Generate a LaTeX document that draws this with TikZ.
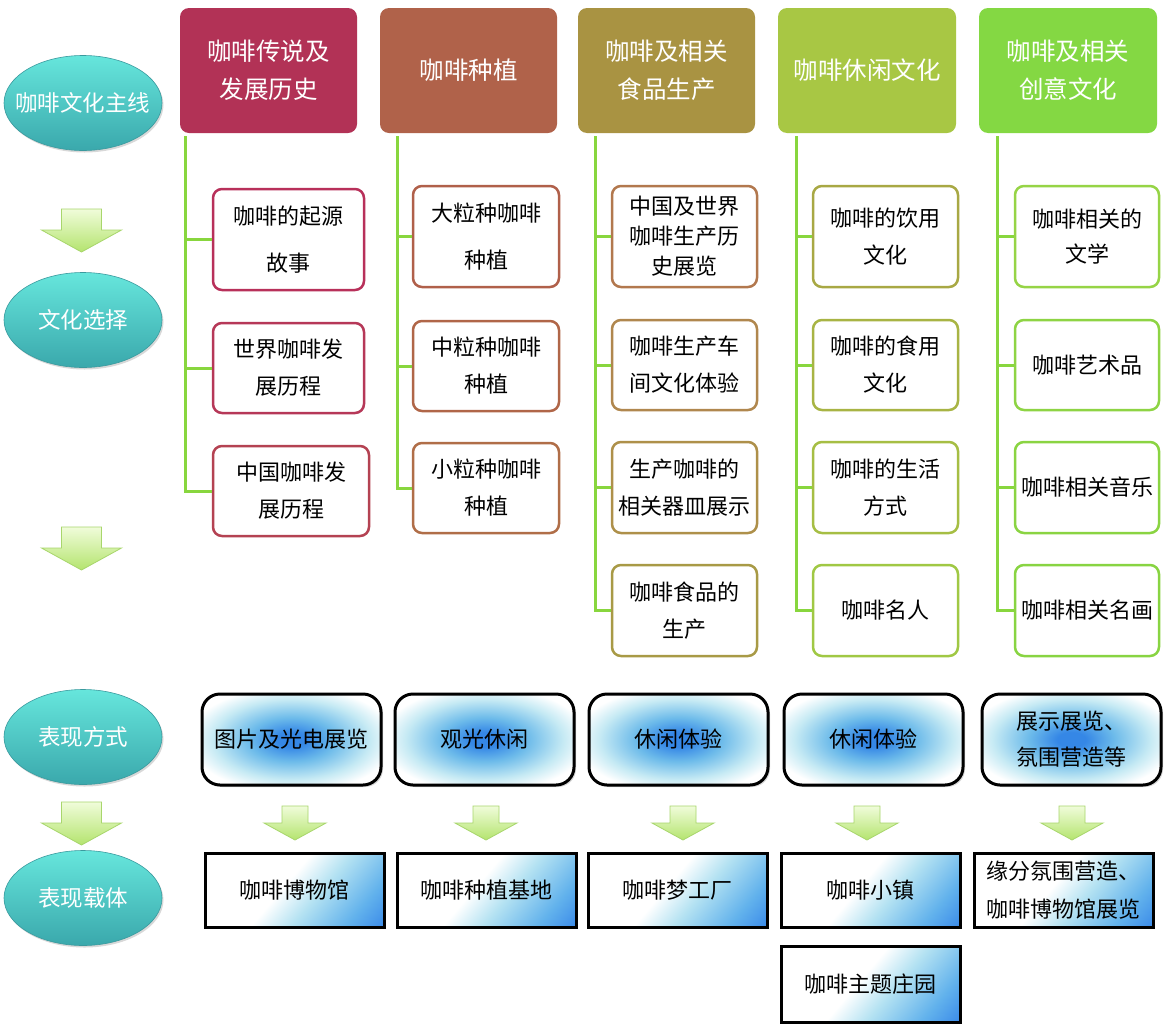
\documentclass[tikz,border=0pt]{standalone}
\usepackage{fontspec}
\setmainfont{Noto Sans CJK SC}
\usetikzlibrary{shapes.geometric,shadows}

\definecolor{hA}{HTML}{B23256}
\definecolor{hB}{HTML}{B0624A}
\definecolor{hC}{HTML}{A99342}
\definecolor{hD}{HTML}{A8C744}
\definecolor{hE}{HTML}{84D843}
\definecolor{kA1}{HTML}{B8305A}
\definecolor{kA2}{HTML}{B63858}
\definecolor{kA3}{HTML}{B44252}
\definecolor{kB1}{HTML}{B0604A}
\definecolor{kB2}{HTML}{B06648}
\definecolor{kB3}{HTML}{B06E48}
\definecolor{kC1}{HTML}{B2784E}
\definecolor{kC2}{HTML}{B0874E}
\definecolor{kC3}{HTML}{AE904A}
\definecolor{kC4}{HTML}{A89A46}
\definecolor{kD1}{HTML}{A8A844}
\definecolor{kD2}{HTML}{A8B444}
\definecolor{kD3}{HTML}{A6BE44}
\definecolor{kD4}{HTML}{A0C844}
\definecolor{kE1}{HTML}{96D446}
\definecolor{kE2}{HTML}{8ED444}
\definecolor{kE3}{HTML}{8AD442}
\definecolor{kE4}{HTML}{88D442}
\definecolor{tree}{HTML}{88D63E}
\definecolor{ellT}{HTML}{66E6DC}
\definecolor{ellB}{HTML}{3AA8AC}
\definecolor{ellD}{HTML}{3A9A9E}
\definecolor{arrT}{HTML}{F0FCDA}
\definecolor{arrB}{HTML}{B4E46E}
\definecolor{arrD}{HTML}{A8D66C}
\definecolor{blobA}{HTML}{3587E6}
\definecolor{blobB}{HTML}{6DBBEA}
\definecolor{blobC}{HTML}{C6EAF4}
\definecolor{sheenA}{HTML}{B4E2F2}
\definecolor{sheenB}{HTML}{62B2EC}
\definecolor{sheenC}{HTML}{2A7AE8}

\pgfdeclareradialshading{blob}{\pgfpoint{0bp}{0bp}}{color(0bp)=(blobA); color(4bp)=(blobA); color(12bp)=(blobB); color(22bp)=(blobC); color(29bp)=(white); color(50bp)=(white)}
\pgfdeclarehorizontalshading{sheen}{100bp}{color(0bp)=(white); color(46bp)=(white); color(58bp)=(sheenA); color(74bp)=(sheenB); color(90bp)=(sheenC); color(100bp)=(sheenC)}

\newcommand\downblock[6]{%
  \path[top color=arrT, bottom color=arrB, draw=arrD, line width=0.8pt]
    (#1-#2,#4) -- (#1+#2,#4) -- (#1+#2,#5) -- (#1+#3,#5) -- (#1,#6)
    -- (#1-#3,#5) -- (#1-#2,#5) -- cycle;}

\begin{document}
\begin{tikzpicture}[x=1pt,y=-1pt,
  sz/.style n args={2}{minimum width=#1pt, minimum height=#2pt},
  head/.style={rectangle, rounded corners=9pt, inner sep=0pt, align=center,
    text=white, font=\fontsize{24.5}{38}\selectfont, sz={177}{125}},
  kid/.style={rectangle, draw, line width=2.5pt, rounded corners=9pt, fill=white,
    inner sep=0pt, align=center, font=\fontsize{22}{37}\selectfont},
  mainell/.style={ellipse, inner sep=0pt, sz={158}{95}, top color=ellT, bottom color=ellB,
    draw=ellD, line width=0.6pt,
    drop shadow={shadow xshift=1.5pt, shadow yshift=-2pt, opacity=0.3}},
  elltext/.style={text=white, font=\fontsize{22.5}{30}\selectfont},
  waybox/.style={rectangle, rounded corners=18pt, draw=black, line width=3pt, shading=blob,
    inner sep=0pt, align=center, sz={179}{91}, font=\fontsize{22}{36}\selectfont,
    drop shadow={shadow xshift=2pt, shadow yshift=-2pt, opacity=0.3}},
  carrier/.style={rectangle, draw=black, line width=3pt, shading=sheen, shading angle=-40,
    inner sep=0pt, align=center, sz={179}{74}, font=\fontsize{22}{38}\selectfont,
    drop shadow={shadow xshift=2pt, shadow yshift=-2pt, opacity=0.3}},
  treeline/.style={draw=tree, line width=3pt}
]
\useasboundingbox (0,0) rectangle (1164,1031);
\fill[white] (0,0) rectangle (1164,1031);

% left ellipses
\node[mainell, label={[elltext]center:咖啡文化主线}] (m1) at (83,103) {};
\node[mainell, label={[elltext]center:文化选择}] (m2) at (83,320) {};
\node[mainell, label={[elltext]center:表现方式}] (m3) at (83,737) {};
\node[mainell, label={[elltext]center:表现载体}] (m4) at (83,898) {};

% left arrows
\downblock{81.5}{20}{40}{209}{230}{252}
\downblock{81.5}{20}{40}{527}{548}{570}
\downblock{81.5}{20}{40}{802}{823}{845}

% headers
\node[head, fill=hA] (h1) at (268.5,70.5) {咖啡传说及\\发展历史};
\node[head, fill=hB] (h2) at (468.5,70.5) {咖啡种植};
\node[head, fill=hC] (h3) at (666.5,70.5) {咖啡及相关\\食品生产};
\node[head, fill=hD, sz={178}{125}] (h4) at (867,70.5) {咖啡休闲文化};
\node[head, fill=hE, sz={178}{125}] (h5) at (1068,70.5) {咖啡及相关\\创意文化};

% trunk coordinates
\coordinate (t1) at (185,136);
\coordinate (t2) at (397,136);
\coordinate (t3) at (595,136);
\coordinate (t4) at (796,136);
\coordinate (t5) at (997,136);

% column 1
\node[kid, draw=kA1, sz={151}{101}] (a1) at (288.5,239.5) {咖啡的起源\\[10pt]故事};
\node[kid, draw=kA2, sz={151}{90}] (a2) at (288.5,368) {世界咖啡发\\展历程};
\node[kid, draw=kA3, sz={156}{90}] (a3) at (291,491) {中国咖啡发\\展历程};
% column 2
\node[kid, draw=kB1, sz={146}{101}] (b1) at (486,236.5) {大粒种咖啡\\[10pt]种植};
\node[kid, draw=kB2, sz={146}{90}] (b2) at (486,366) {中粒种咖啡\\种植};
\node[kid, draw=kB3, sz={146}{90}] (b3) at (486,488) {小粒种咖啡\\种植};
% column 3
\node[kid, draw=kC1, sz={145}{101}, font=\fontsize{22}{30}\selectfont] (c1) at (684.5,236.5) {中国及世界\\咖啡生产历\\史展览};
\node[kid, draw=kC2, sz={145}{90}] (c2) at (684.5,365) {咖啡生产车\\间文化体验};
\node[kid, draw=kC3, sz={145}{91}] (c3) at (684.5,487.5) {生产咖啡的\\相关器皿展示};
\node[kid, draw=kC4, sz={145}{91}] (c4) at (684.5,610.5) {咖啡食品的\\生产};
% column 4
\node[kid, draw=kD1, sz={145}{101}] (d1) at (885.5,236.5) {咖啡的饮用\\文化};
\node[kid, draw=kD2, sz={145}{90}] (d2) at (885.5,365) {咖啡的食用\\文化};
\node[kid, draw=kD3, sz={145}{91}] (d3) at (885.5,487.5) {咖啡的生活\\方式};
\node[kid, draw=kD4, sz={145}{91}] (d4) at (885.5,610.5) {咖啡名人};
% column 5
\node[kid, draw=kE1, sz={144}{101}, font=\fontsize{22}{35}\selectfont] (e1) at (1087,236.5) {咖啡相关的\\文学};
\node[kid, draw=kE2, sz={144}{90}] (e2) at (1087,365) {咖啡艺术品};
\node[kid, draw=kE3, sz={144}{91}] (e3) at (1087,487.5) {咖啡相关音乐};
\node[kid, draw=kE4, sz={144}{91}] (e4) at (1087,610.5) {咖啡相关名画};

% tree lines
\draw[treeline] (t1) |- (a3.west);
\draw[treeline] (t1 |- a1.west) -- (a1.west);
\draw[treeline] (t1 |- a2.west) -- (a2.west);
\draw[treeline] (t2) |- (b3.west);
\draw[treeline] (t2 |- b1.west) -- (b1.west);
\draw[treeline] (t2 |- b2.west) -- (b2.west);
\draw[treeline] (t3) |- (c4.west);
\draw[treeline] (t3 |- c1.west) -- (c1.west);
\draw[treeline] (t3 |- c2.west) -- (c2.west);
\draw[treeline] (t3 |- c3.west) -- (c3.west);
\draw[treeline] (t4) |- (d4.west);
\draw[treeline] (t4 |- d1.west) -- (d1.west);
\draw[treeline] (t4 |- d2.west) -- (d2.west);
\draw[treeline] (t4 |- d3.west) -- (d3.west);
\draw[treeline] (t5) |- (e4.west);
\draw[treeline] (t5 |- e1.west) -- (e1.west);
\draw[treeline] (t5 |- e2.west) -- (e2.west);
\draw[treeline] (t5 |- e3.west) -- (e3.west);

% ways of expression
\node[waybox] (p1) at (291.5,739.5) {图片及光电展览};
\node[waybox] (p2) at (484.5,739.5) {观光休闲};
\node[waybox] (p3) at (678.5,739.5) {休闲体验};
\node[waybox] (p4) at (873.5,739.5) {休闲体验};
\node[waybox] (p5) at (1071.5,739.5) {展示展览、\\氛围营造等};

% small arrows
\downblock{295}{13}{31}{806}{823}{840}
\downblock{486}{13}{31}{806}{823}{840}
\downblock{683}{13}{31}{806}{823}{840}
\downblock{867}{13}{31}{806}{823}{840}
\downblock{1072}{13}{31}{806}{823}{840}

% carriers
\node[carrier] (q1) at (294.5,890) {咖啡博物馆};
\node[carrier] (q2) at (486.5,890) {咖啡种植基地};
\node[carrier] (q3) at (677.5,890) {咖啡梦工厂};
\node[carrier] (q4) at (870.5,890) {咖啡小镇};
\node[carrier] (q5) at (1063.5,890) {缘分氛围营造、\\咖啡博物馆展览};
\node[carrier, sz={179}{76}] (q6) at (870.5,984) {咖啡主题庄园};
\end{tikzpicture}
\end{document}
